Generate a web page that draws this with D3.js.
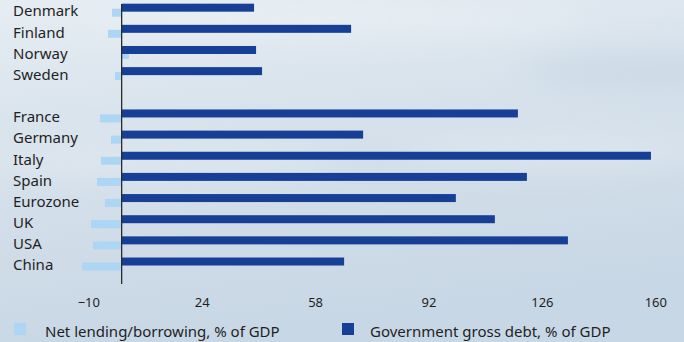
<!DOCTYPE html>
<html>
<head>
<meta charset="utf-8">
<script src="https://cdn.jsdelivr.net/npm/d3@7"></script>
<style>
  html, body { margin: 0; padding: 0; }
  body { width: 684px; height: 342px; overflow: hidden; }
  text { font-family: "Noto Sans", sans-serif; fill: #1f1f1f; }
</style>
</head>
<body>
<svg id="chart" width="684" height="342"></svg>
<script>
const categories = ["Denmark", "Finland", "Norway", "Sweden", "", "France", "Germany", "Italy", "Spain", "Eurozone", "UK", "USA", "China"];
const netLending = [-2.9, -4.1, 2.2, -2.0, null, -6.5, -3.2, -6.2, -7.4, -5.0, -9.2, -8.6, -11.9];
const grossDebt = [39.7, 68.8, 40.3, 42.1, null, 118.8, 72.4, 158.7, 121.5, 100.2, 111.9, 133.8, 66.7];
const tickValues = [-10, 24, 58, 92, 126, 160];
const seriesNames = ["Net lending/borrowing, % of GDP", "Government gross debt, % of GDP"];
const colors = ["#acd6f3", "#173f96"];

const svg = d3.select("#chart");
const W = 684, H = 342;

// background
const defs = svg.append("defs");
const g1 = defs.append("linearGradient").attr("id", "bg").attr("x1", 0).attr("y1", 0).attr("x2", 0.25).attr("y2", 1);
g1.append("stop").attr("offset", "0%").attr("stop-color", "#e6edf3");
g1.append("stop").attr("offset", "45%").attr("stop-color", "#d6e1eb");
g1.append("stop").attr("offset", "100%").attr("stop-color", "#c8d7e5");
svg.append("rect").attr("width", W).attr("height", H).attr("fill", "url(#bg)");
const blur = defs.append("filter").attr("id", "blur").attr("x", "-50%").attr("y", "-50%").attr("width", "200%").attr("height", "200%");
blur.append("feGaussianBlur").attr("stdDeviation", 14);
const waves = svg.append("g").attr("filter", "url(#blur)").attr("opacity", 0.55);
waves.append("ellipse").attr("cx", 330).attr("cy", 20).attr("rx", 260).attr("ry", 14).attr("fill", "#eef3f7");
waves.append("ellipse").attr("cx", 560).attr("cy", 150).attr("rx", 160).attr("ry", 18).attr("fill", "#e2eaf1");
waves.append("ellipse").attr("cx", 150).attr("cy", 160).attr("rx", 180).attr("ry", 20).attr("fill", "#e3eaf1");
waves.append("ellipse").attr("cx", 640).attr("cy", 70).attr("rx", 120).attr("ry", 18).attr("fill", "#c5d5e4");

const x = d3.scaleLinear().domain([-10, 160]).range([88.3, 655.3]);
const y = d3.scaleBand().domain(categories.map((c, i) => i)).range([-0.4, 274.6]).padding(0);
const barH = 8;

const data = categories.map((c, i) => ({ c, i, net: netLending[i], debt: grossDebt[i] })).filter(d => d.c !== "");

// net lending bars (below)
svg.append("g").selectAll("rect").data(data).join("rect")
  .attr("x", d => x(Math.min(0, d.net)))
  .attr("width", d => Math.abs(x(d.net) - x(0)))
  .attr("y", d => y(d.i) + y.bandwidth() / 2 - 1.5)
  .attr("height", barH)
  .attr("fill", colors[0]);

// debt bars
svg.append("g").selectAll("rect").data(data).join("rect")
  .attr("x", x(0))
  .attr("width", d => x(d.debt) - x(0))
  .attr("y", d => y(d.i) + y.bandwidth() / 2 - 6.5)
  .attr("height", barH)
  .attr("fill", colors[1]);

// category labels
svg.append("g").selectAll("text").data(data).join("text")
  .attr("x", 13)
  .attr("y", d => y(d.i) + y.bandwidth() / 2 + 1)
  .attr("dy", "0.35em")
  .style("font-size", "15px")
  .text(d => d.c);

// zero axis line
svg.append("line").attr("x1", x(0)).attr("x2", x(0)).attr("y1", 4).attr("y2", 284)
  .attr("stroke", "#2b2b2b").attr("stroke-width", 1.3);

// x axis tick labels
const xAxis = d3.axisBottom(x).tickValues(tickValues).tickSize(0).tickPadding(0)
  .tickFormat(d => d < 0 ? "\u2212" + Math.abs(d) : String(d));
const ax = svg.append("g").attr("transform", "translate(0,298)").call(xAxis);
ax.select(".domain").remove();
ax.selectAll("text").attr("dy", "0.71em").style("font-size", "13px").style("font-family", "\"Noto Sans\", sans-serif").attr("fill", "#1f1f1f");

// legend
const legX = [14, 342];
const legTextX = [45, 370];
const leg = svg.append("g");
seriesNames.forEach((name, i) => {
  leg.append("rect").attr("x", legX[i]).attr("y", 323).attr("width", 12).attr("height", 12).attr("fill", colors[i]);
  leg.append("text").attr("x", legTextX[i]).attr("y", 336.5).style("font-size", "15px").text(name);
});
</script>
</body>
</html>
